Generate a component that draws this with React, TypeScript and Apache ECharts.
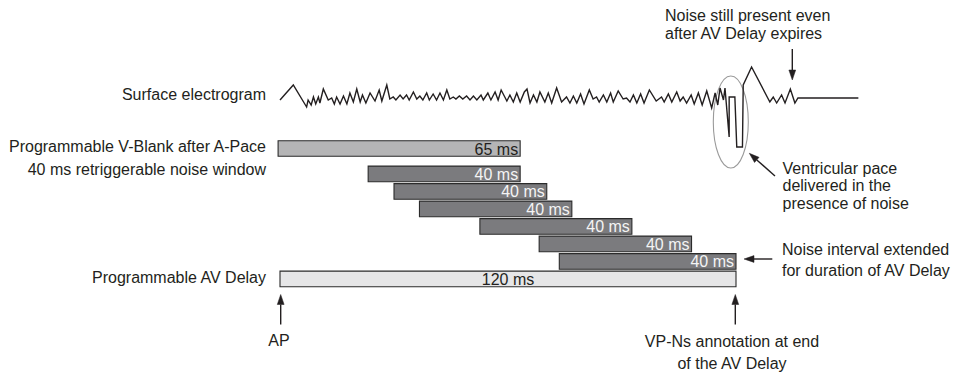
import React, { useEffect, useRef } from "react";
import * as echarts from "echarts";

// ---- Data (times in ms from atrial pace, amplitudes in arbitrary units) ----
const vBlankStart = [-0.5];
const vBlankEnd = [63.2];
const vBlankLabels = ["65 ms"];

const noiseStart = [23.2, 30.0, 36.7, 52.6, 68.2, 73.5];
const noiseEnd = [63.2, 70.2, 76.8, 92.6, 108.3, 120.0];
const noiseLabels = ["40 ms", "40 ms", "40 ms", "40 ms", "40 ms", "40 ms"];

const avStart = [0];
const avEnd = [120];
const avLabels = ["120 ms"];

const egTime = [
  0, 3.5, 7.0, 7.4, 8.2, 8.8, 9.4, 10.1, 10.5, 11.4, 12.7, 13.6, 14.3, 14.9, 15.8, 16.7, 17.6, 18.4, 19.3, 20.2,
  21.1, 21.7, 22.6, 23.7, 25.0, 26.1, 26.8, 28.1, 28.9, 29.8, 30.5, 31.6, 32.4, 33.3, 34.0, 35.1, 36.0, 36.8, 37.6,
  38.6, 39.3, 40.3, 41.2, 42.1, 43.0, 43.9, 44.7, 45.6, 46.3, 47.2, 48.1, 49.1, 50.0, 50.9, 51.8, 52.9, 53.5, 54.7,
  55.5, 56.6, 57.4, 58.2, 59.7, 60.5, 61.4, 62.3, 63.2, 64.3, 65.0, 65.8, 66.7, 67.6, 68.4, 69.7, 70.6, 71.5, 72.8,
  74.1, 75.4, 76.3, 77.2, 78.1, 79.1, 80.0, 81.4, 82.4, 83.3, 84.0, 85.1, 86.0, 87.0, 87.7, 89.0, 90.3, 91.2, 92.1,
  93.0, 93.9, 94.9, 95.8, 97.2, 99.0, 100.4, 101.1, 102.2, 103.1, 104.4, 105.3, 106.1, 107.0, 108.2, 109.0, 110.1,
  111.1, 112.3, 113.6, 114.5, 115.2, 115.8, 116.7, 117.1, 118.2, 118.2, 119.7, 120.2, 121.7, 121.9, 124.1, 128.9,
  129.8, 130.7, 132.0, 132.9, 134.3, 135.5, 136.3, 152.2,
];
const egAmp = [
  -2, 13, -9, -2, -7, 1, -6, 1, -5, 9, -2, 0, -6, 1, -6, 2, -6, 5, -4, 9,
  -4, 3, -5, 5, -3, 8, -3, 13, -1, 1, -2, 3, -1, 3, -2, 6, -1, 2, -2,
  5, -2, 4, -2, 5, -2, 8, -1, 1, -1, 2, -1, 2, -2, 2, -2, 3, -2, 5,
  -2, 6, -2, 8, -3, 3, -4, 5, -4, 6, 9, -5, 3, -4, 6, -4, 5, -5, 10,
  -4, 1, -5, 2, -5, 4, -6, 8, -1, 1, -4, 3, -4, 5, -4, 7, -1, 0, -4,
  3, -5, 4, -5, 8, -3, 1, -4, 4, -4, 6, -3, 1, -5, 3, -6, 5,
  -7, 7, -10, 5, -7, 10, -2, 10, -39, 1, 1, -49, -49, 13, 31, -4,
  1, -5, 3, -5, 9, -5, 0, 0,
];

const leftLabels = [
  "Surface electrogram",
  "Programmable V-Blank after A-Pace",
  "40 ms retriggerable noise window",
  "Programmable AV Delay",
];

// ---- Styling ----
const FONT = '"Liberation Sans", Arial, Helvetica, sans-serif';
const INK = "#231f20";
const FS = 16;
const X_MAX = 152.2;
const PX_PER_MS = 3.8;
const V_BLANK_ROW = -1.45;
const AV_ROW = 6;

function txt(text: string, x: number, y: number, align: string = "left") {
  return {
    type: "text",
    x,
    y,
    silent: true,
    style: { text, align, verticalAlign: "middle", fill: INK, fontSize: FS, fontFamily: FONT },
  };
}

function arrow(x1: number, y1: number, x2: number, y2: number) {
  const dx = x2 - x1;
  const dy = y2 - y1;
  const len = Math.sqrt(dx * dx + dy * dy);
  const ux = dx / len;
  const uy = dy / len;
  const hl = 10;
  const hw = 3.4;
  const bx = x2 - ux * hl;
  const by = y2 - uy * hl;
  return [
    { type: "line", silent: true, shape: { x1, y1, x2: bx, y2: by }, style: { stroke: INK, lineWidth: 1.4 } },
    {
      type: "polygon",
      silent: true,
      shape: { points: [[x2, y2], [bx - uy * hw, by + ux * hw], [bx + uy * hw, by - ux * hw]] },
      style: { fill: INK, stroke: INK, lineWidth: 0.5 },
    },
  ];
}

function barSeries(
  name: string,
  starts: number[],
  ends: number[],
  rows: number[],
  labels: string[],
  fill: string,
  textFill: string,
  centered: boolean
) {
  return {
    type: "custom",
    name,
    xAxisIndex: 0,
    yAxisIndex: 0,
    clip: false,
    data: starts.map((s, i) => [s, ends[i], rows[i]]),
    renderItem: (params: any, api: any) => {
      const s = api.coord([api.value(0), api.value(2)]);
      const e = api.coord([api.value(1), api.value(2)]);
      const h = api.size([0, 1])[1] * 0.89;
      return {
        type: "group",
        children: [
          {
            type: "rect",
            shape: { x: s[0], y: s[1] - h / 2, width: e[0] - s[0], height: h },
            style: { fill, stroke: "#2b2b2b", lineWidth: 1.1 },
          },
          {
            type: "text",
            style: {
              text: labels[params.dataIndex],
              x: centered ? (s[0] + e[0]) / 2 : e[0] - 2,
              y: s[1] + 0.5,
              align: centered ? "center" : "right",
              verticalAlign: "middle",
              fill: textFill,
              fontSize: FS,
              fontFamily: FONT,
            },
          },
        ],
      };
    },
  };
}

export default function App() {
  const ref = useRef<HTMLDivElement>(null);

  useEffect(() => {
    if (!ref.current) return;
    const chart = echarts.init(ref.current, null, { renderer: "svg" });

    const gridLeft = 280;
    const gridWidth = X_MAX * PX_PER_MS;

    const graphic: any[] = [
      txt(leftLabels[0], 266, 94, "right"),
      txt(leftLabels[1], 266, 146.5, "right"),
      txt(leftLabels[2], 266, 169.5, "right"),
      txt(leftLabels[3], 266, 277.5, "right"),
      txt("Noise still present even", 665, 15),
      txt("after AV Delay expires", 665, 33.5),
      txt("Ventricular pace", 782.5, 168),
      txt("delivered in the", 782.5, 185.5),
      txt("presence of noise", 782.5, 203),
      txt("Noise interval extended", 782, 249.5),
      txt("for duration of AV Delay", 782, 270.5),
      txt("AP", 279, 340, "center"),
      txt("VP-Ns annotation at end", 732, 341.5, "center"),
      txt("of the AV Delay", 732, 363, "center"),
      {
        type: "ellipse",
        silent: true,
        shape: { cx: 730.8, cy: 122, rx: 17.5, ry: 46 },
        style: { fill: "none", stroke: "#9a9a9a", lineWidth: 1.1 },
      },
      ...arrow(792.3, 49, 792.3, 80),
      ...arrow(775, 176, 749.3, 153.3),
      ...arrow(772.3, 259, 744, 259),
      ...arrow(280.7, 324.5, 280.7, 294.5),
      ...arrow(735.3, 324.5, 735.3, 294.5),
    ];

    chart.setOption({
      animation: false,
      backgroundColor: "#ffffff",
      grid: [
        { left: gridLeft, width: gridWidth, top: 138.9, height: 175 },
        { left: gridLeft, width: gridWidth, top: 48, height: 100 },
      ],
      xAxis: [
        { type: "value", gridIndex: 0, min: 0, max: X_MAX, show: false },
        { type: "value", gridIndex: 1, min: 0, max: X_MAX, show: false },
      ],
      yAxis: [
        { type: "value", gridIndex: 0, min: -2, max: 8, inverse: true, show: false },
        { type: "value", gridIndex: 1, min: -50, max: 50, show: false },
      ],
      graphic,
      series: [
        {
          type: "line",
          name: "Surface electrogram",
          xAxisIndex: 1,
          yAxisIndex: 1,
          clip: false,
          showSymbol: false,
          symbol: "none",
          data: egTime.map((t, i) => [t, egAmp[i]]),
          lineStyle: { color: INK, width: 1.4, join: "miter" },
          z: 5,
        },
        barSeries("V-Blank", vBlankStart, vBlankEnd, [V_BLANK_ROW], vBlankLabels, "#b5b5b6", INK, false),
        barSeries(
          "Noise window",
          noiseStart,
          noiseEnd,
          noiseStart.map((_, i) => i),
          noiseLabels,
          "#7b7b7e",
          "#f4f4f4",
          false
        ),
        barSeries("AV Delay", avStart, avEnd, [AV_ROW], avLabels, "#e6e6e7", INK, true),
      ],
    });

    return () => chart.dispose();
  }, []);

  return (
    <div
      ref={ref}
      style={{ position: "fixed", left: 0, top: 0, width: 955, height: 375, background: "#fff" }}
    />
  );
}
